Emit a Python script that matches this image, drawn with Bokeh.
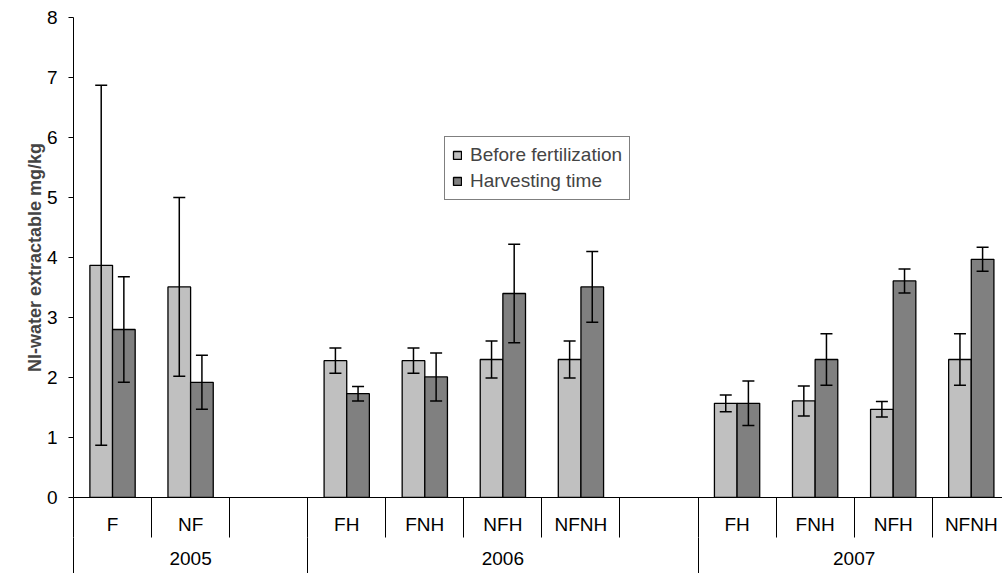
from bokeh.plotting import figure
from bokeh.models import (ColumnDataSource, Range1d, LinearAxis, FixedTicker,
                          Whisker, TeeHead, Legend, LegendItem)
from bokeh.embed import file_html
from bokeh.resources import INLINE

# ---- data ----
years = ["2005", "2006", "2007"]
year_slots = [3, 5, 4]  # category slots per year (incl. one empty slot)
treatments_2005 = ["F", "NF"]
treatments_2006 = ["FH", "FNH", "NFH", "NFNH"]
treatments_2007 = ["FH", "FNH", "NFH", "NFNH"]
before = [3.87, 3.51, 2.28, 2.28, 2.30, 2.30, 1.57, 1.61, 1.47, 2.30]
before_err = [3.00, 1.49, 0.21, 0.21, 0.31, 0.31, 0.14, 0.25, 0.13, 0.43]
harvest = [2.80, 1.92, 1.73, 2.01, 3.40, 3.51, 1.57, 2.30, 3.61, 3.97]
harvest_err = [0.88, 0.45, 0.12, 0.40, 0.82, 0.59, 0.37, 0.43, 0.20, 0.20]
y_ticks = [0, 1, 2, 3, 4, 5, 6, 7, 8]

FONT = "Liberation Sans"
LIGHT = "#C0C0C0"
DARK = "#808080"

treat = {"2005": treatments_2005, "2006": treatments_2006, "2007": treatments_2007}
centers, labels, bounds, g_centers, g_bounds = [], [], [], [], []
start = 0
for yr, n in zip(years, year_slots):
    g_bounds.append(start)
    g_centers.append(start + n / 2)
    for i in range(n):
        bounds.append(start + i)
        if i < len(treat[yr]):
            centers.append(start + i + 0.5)
            labels.append(treat[yr][i])
    start += n

off = 0.145
src = ColumnDataSource(dict(
    xb=[c - off for c in centers], xh=[c + off for c in centers],
    before=before, harvest=harvest,
    bu=[v + e for v, e in zip(before, before_err)], bl=[v - e for v, e in zip(before, before_err)],
    hu=[v + e for v, e in zip(harvest, harvest_err)], hl=[v - e for v, e in zip(harvest, harvest_err)],
))

p = figure(width=1002, height=573, output_backend="svg", toolbar_location=None,
           x_range=Range1d(0, 11.90), y_range=Range1d(0, 8), x_axis_type=None,
           min_border_left=73, min_border_top=17, min_border_right=0, min_border_bottom=76)
p.xgrid.visible = False
p.ygrid.visible = False
p.outline_line_color = None

rb = p.vbar(x="xb", top="before", width=0.29, source=src, fill_color=LIGHT,
            line_color="black", line_width=1.3)
rh = p.vbar(x="xh", top="harvest", width=0.29, source=src, fill_color=DARK,
            line_color="black", line_width=1.3)

for base, up, lo in (("xb", "bu", "bl"), ("xh", "hu", "hl")):
    w = Whisker(source=src, base=base, upper=up, lower=lo, line_color="black", line_width=1.5,
                upper_head=TeeHead(size=12, line_width=1.5, line_color="black"),
                lower_head=TeeHead(size=12, line_width=1.5, line_color="black"),
                level="overlay")
    p.add_layout(w)

# y axis
ya = p.yaxis[0]
ya.ticker = FixedTicker(ticks=y_ticks)
ya.axis_label = "NI-water extractable mg/kg"
ya.axis_label_text_font = FONT
ya.axis_label_text_font_style = "bold"
ya.axis_label_text_font_size = "18px"
ya.axis_label_standoff = -1
ya.major_label_text_font = FONT
ya.major_label_text_font_size = "19px"
ya.major_label_standoff = 11
ya.major_tick_out = 5
ya.major_tick_in = 0
ya.minor_tick_out = 0
ya.minor_tick_in = 0
ya.axis_line_color = "black"
ya.major_tick_line_color = "black"
ya.major_label_text_color = "black"

# category axis
xa = LinearAxis(ticker=FixedTicker(ticks=centers, minor_ticks=bounds),
                major_label_overrides={c: l for c, l in zip(centers, labels)})
xa.major_tick_out = 0
xa.major_tick_in = 0
xa.minor_tick_in = 0
xa.minor_tick_out = 40
xa.minor_tick_line_color = "black"
xa.axis_line_color = "black"
xa.major_label_standoff = -24
xa.major_label_text_font = FONT
xa.major_label_text_font_size = "19px"
xa.major_label_text_color = "black"
p.add_layout(xa, "below")

# year axis
ga = LinearAxis(ticker=FixedTicker(ticks=g_centers, minor_ticks=g_bounds),
                major_label_overrides={c: y for c, y in zip(g_centers, years)})
ga.axis_line_color = None
ga.major_tick_out = 0
ga.major_tick_in = 0
ga.minor_tick_in = 0
ga.minor_tick_out = 37
ga.minor_tick_line_color = "black"
ga.major_label_standoff = -23
ga.major_label_text_font = FONT
ga.major_label_text_font_size = "19px"
ga.major_label_text_color = "black"
p.add_layout(ga, "below")

legend = Legend(items=[LegendItem(label="Before fertilization", renderers=[rb]),
                       LegendItem(label="Harvesting time", renderers=[rh])],
                location=(371, 297), orientation="vertical")
legend.border_line_color = "black"
legend.border_line_width = 1
legend.background_fill_color = "white"
legend.background_fill_alpha = 1
legend.label_text_font = FONT
legend.label_text_font_size = "19px"
legend.glyph_width = 10
legend.glyph_height = 10
legend.label_standoff = 8
legend.padding = 7
legend.spacing = 4
legend.label_height = 21
legend.margin = 0
p.add_layout(legend, "center")

open("out.html", "w").write(file_html(p, INLINE))
